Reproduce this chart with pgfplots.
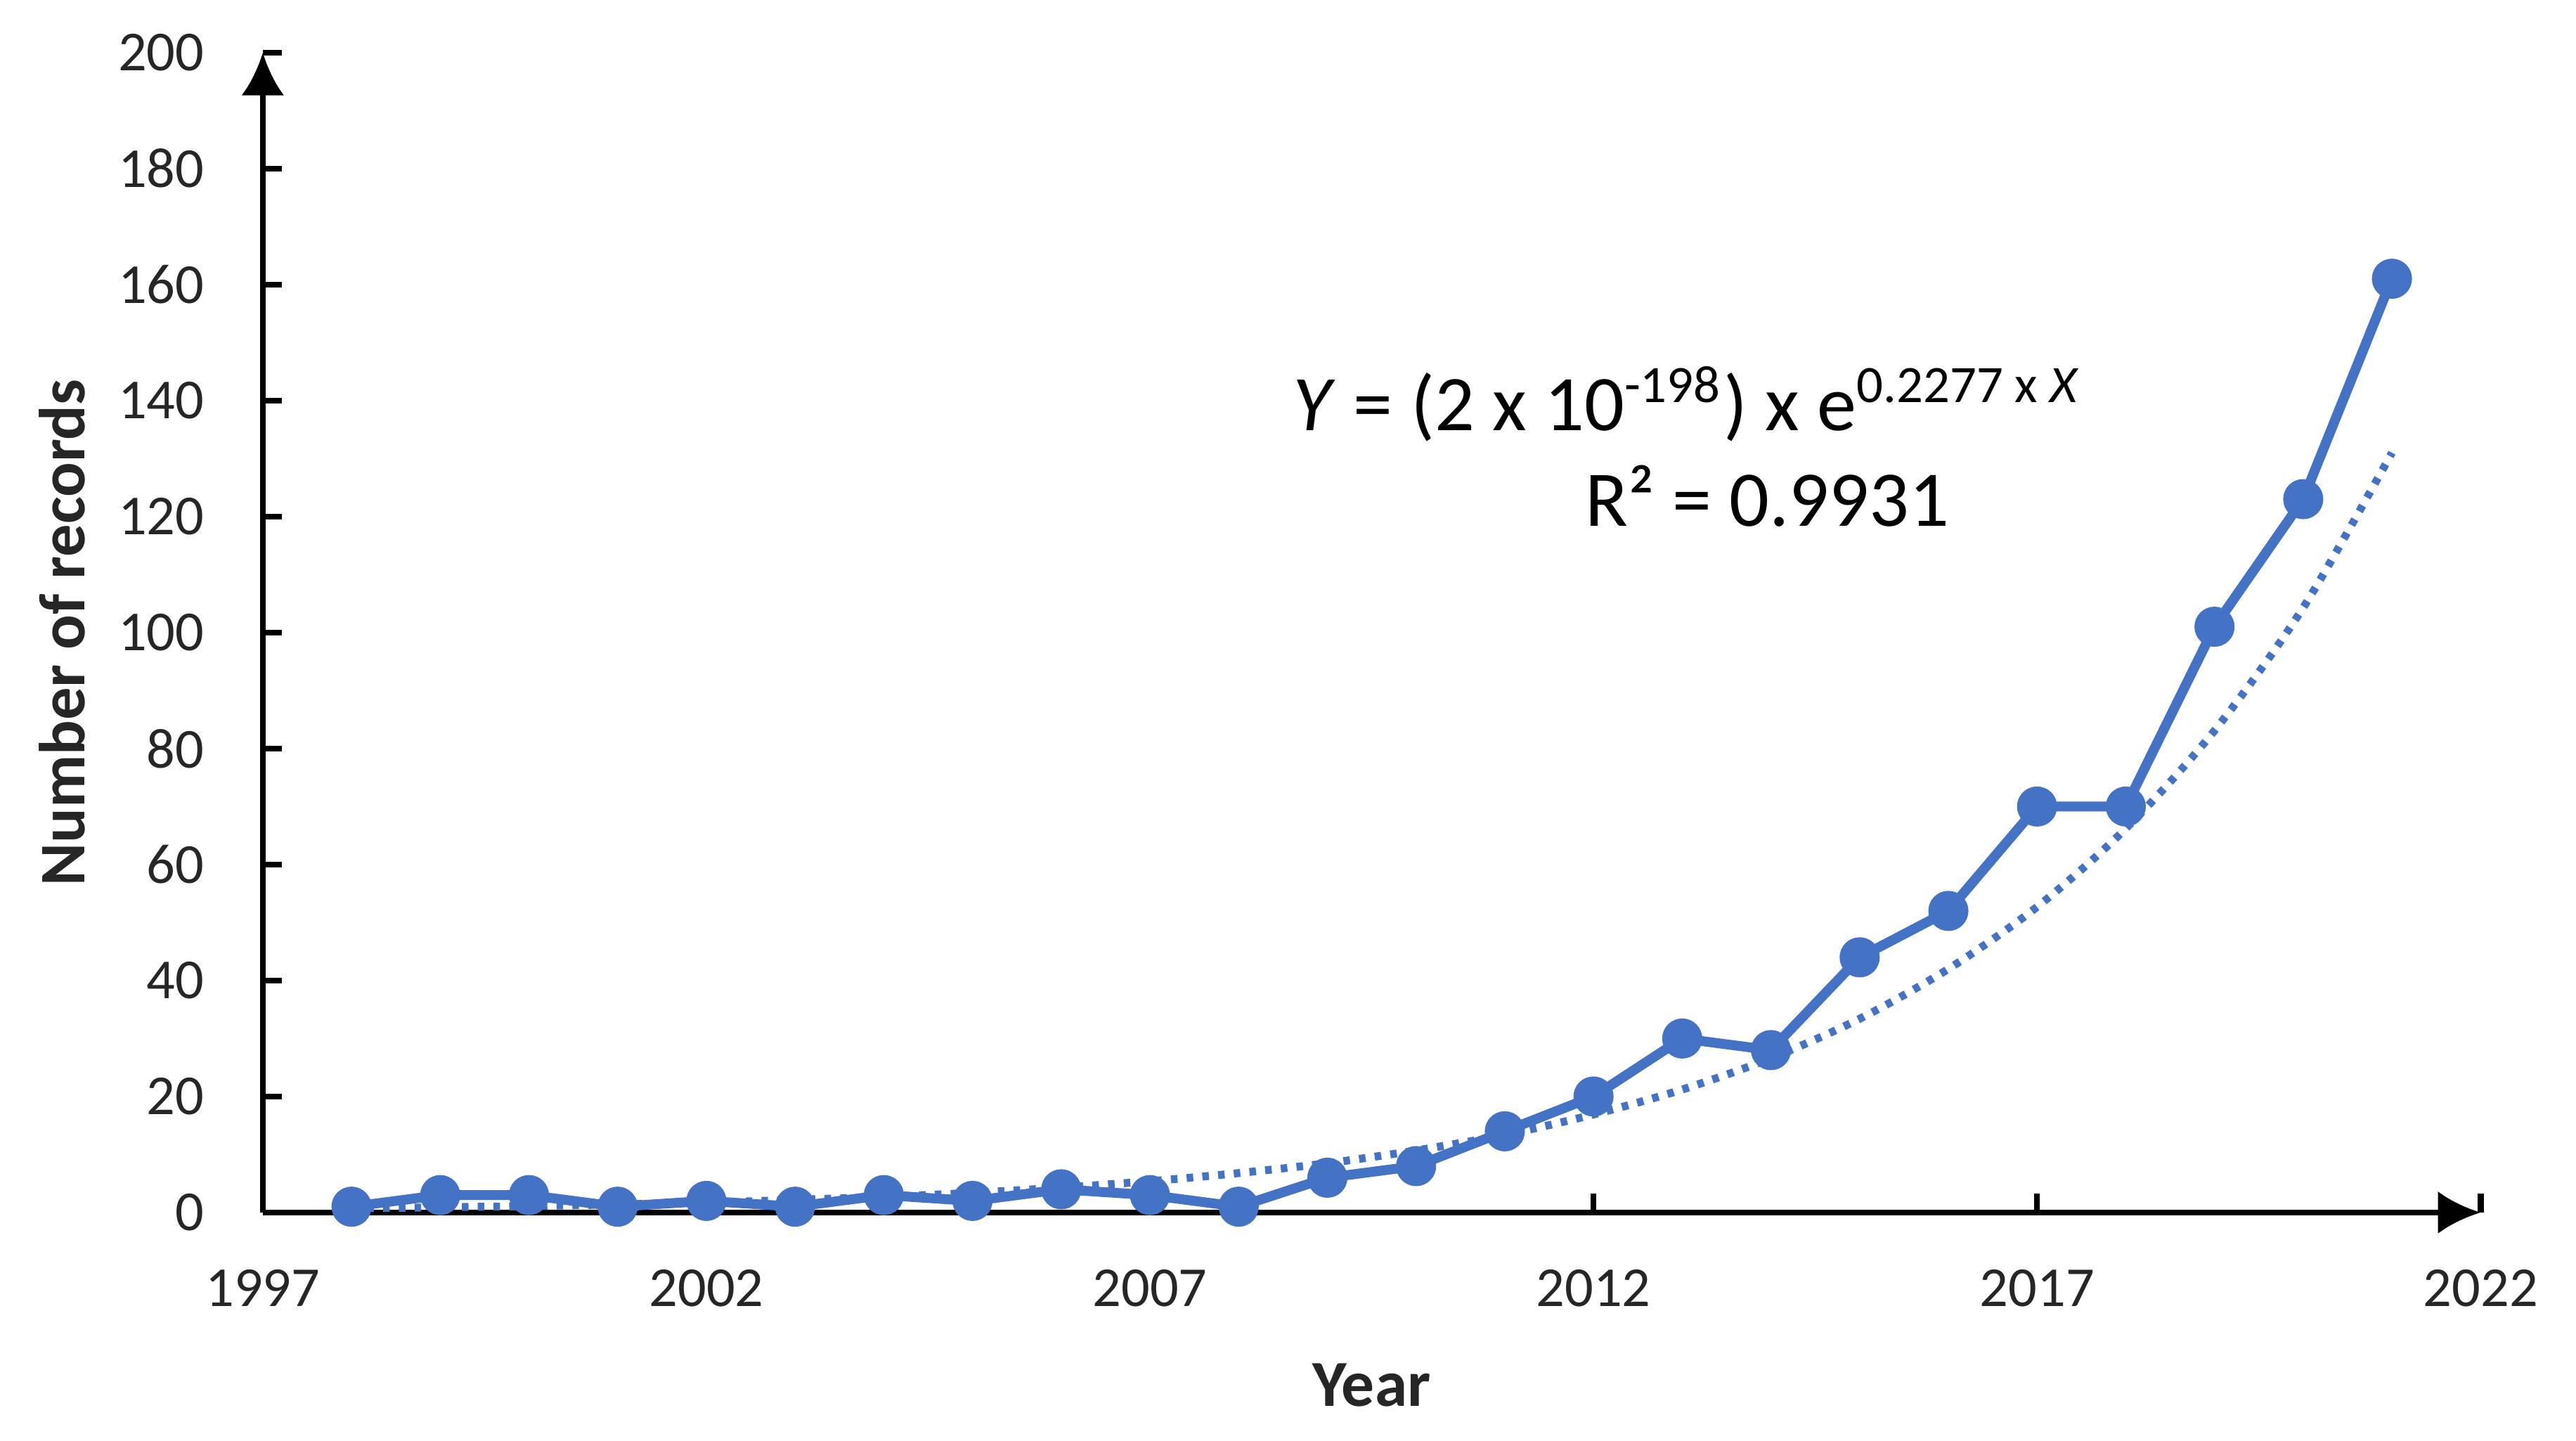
\documentclass[border=0pt]{standalone}
\usepackage{pgfplots}
\pgfplotsset{compat=1.18}
\usepackage{fontspec}
\setmainfont{Carlito}
\usetikzlibrary{arrows.meta}
\definecolor{xlblue}{HTML}{4472C4}
\begin{document}
\begin{tikzpicture}
\begin{axis}[
 scale only axis, width=337.5pt, height=176.5pt,
 xmin=1997, xmax=2022, ymin=0, ymax=200,
 axis lines*=left,
 axis line style={line width=0.9pt},
 every inner x axis line/.append style={-{Latex[length=6.5pt,width=6.5pt]}},
 every inner y axis line/.append style={-{Latex[length=6.5pt,width=6.5pt]}},
 every outer x axis line/.append style={-{Latex[length=6.5pt,width=6.5pt]}},
 every outer y axis line/.append style={-{Latex[length=6.5pt,width=6.5pt]}},
 xtick={1997,2002,...,2022}, ytick={0,20,...,200},
 tick align=inside, major tick length=2.9pt,
 tick style={line width=0.9pt, black},
 /pgf/number format/assume math mode=true,
 /pgf/number format/set thousands separator={},
 ticklabel style={font=\fontsize{8.6}{10}\selectfont, text=black!85},
 xticklabel style={yshift=-5.2pt},
 yticklabel style={xshift=-5.4pt},
 xlabel={Year}, ylabel={Number of records},
 xlabel style={font=\fontsize{10}{12}\selectfont\bfseries, text=black!85, at={(axis description cs:0.5,-0.1487)}, anchor=center},
 ylabel style={font=\fontsize{9.9}{12}\selectfont\bfseries, text=black!85, at={(axis description cs:-0.0905,0.5)}, anchor=center},
 clip=false,
]
\path (rel axis cs:-0.1185,-0.1969) rectangle (rel axis cs:1.0430,1.0453);
\addplot[xlblue, line width=1.2pt, dash pattern=on 1pt off 1.4pt, smooth, no markers] coordinates {
(1998,0.7)(1999,0.9)(2000,1.1)(2001,1.4)(2002,1.7)(2003,2.2)(2004,2.7)(2005,3.4)
(2006,4.3)(2007,5.4)(2008,6.8)(2009,8.5)(2010,10.7)(2011,13.4)(2012,16.9)(2013,21.2)
(2014,26.6)(2015,33.4)(2016,42.0)(2017,52.7)(2018,66.2)(2019,83.1)(2020,104.3)(2021,131.0)
};
\addplot[xlblue, line width=1.5pt, mark=*, mark size=2.3pt, mark options={fill=xlblue, draw=xlblue}] coordinates {
(1998,1)(1999,3)(2000,3)(2001,1)(2002,2)(2003,1)(2004,3)(2005,2)(2006,4)(2007,3)
(2008,1)(2009,6)(2010,8)(2011,14)(2012,20)(2013,30)(2014,28)(2015,44)(2016,52)
(2017,70)(2018,70)(2019,101)(2020,123)(2021,161)
};
\node[anchor=base, font=\fontsize{12}{14}\selectfont, text=black] at (axis cs:2013.06,134.8) {\textit{Y} = (2 x 10\textsuperscript{-198}) x e\textsuperscript{0.2277 x \textit{X}}};
\node[anchor=base, font=\fontsize{12}{14}\selectfont, text=black] at (axis cs:2013.96,118.4) {R² = 0.9931};
\end{axis}
\end{tikzpicture}
\end{document}
